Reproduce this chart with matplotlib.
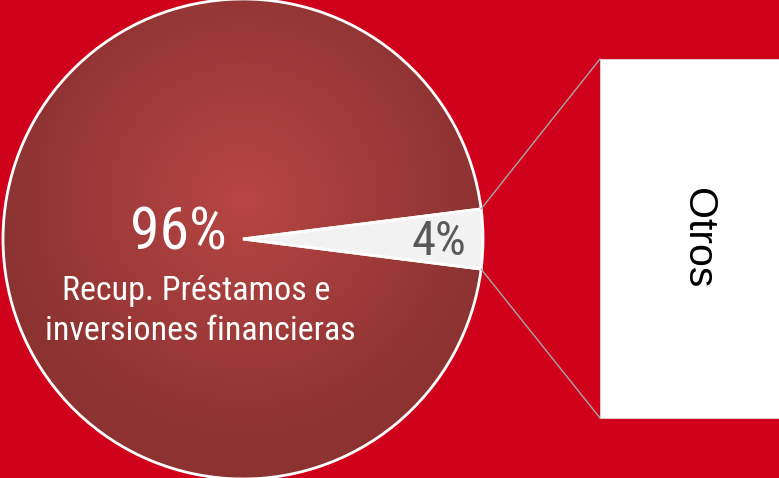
import matplotlib
matplotlib.use('Agg')
import matplotlib.pyplot as plt
from matplotlib.patches import Rectangle
import numpy as np

# data
shares = [4, 96]
pct_labels = ['4%', '96%']
main_label = ['Recup. Préstamos e', 'inversiones financieras']
other_label = 'Otros'

BG = '#D0021B'
NARROW = ['Roboto Condensed', 'Liberation Sans', 'DejaVu Sans']
REG = ['Liberation Sans', 'DejaVu Sans']

W, H = 779, 478
fig = plt.figure(figsize=(W / 100, H / 100), dpi=100, facecolor=BG)
ax = fig.add_axes([0, 0, 1, 1])
ax.set_facecolor(BG)

cx, cy, r = 243, 239, 240
start = -shares[0] * 3.6 / 2
wedges, _ = ax.pie(shares, startangle=start, center=(cx, cy), radius=r,
                   colors=['#F2F2F2', '#A0403C'],
                   wedgeprops=dict(edgecolor='white', linewidth=2.0))

# radial gradient fill for the big slice
yy, xx = np.mgrid[0:H, 0:W]
d = np.hypot(xx - cx, yy - (H - cy - 40)) / r
d = np.clip(d, 0, 1)
c0 = np.array([0xB8, 0x46, 0x44]) / 255
c1 = np.array([0x8C, 0x33, 0x32]) / 255
img = c0[None, None, :] * (1 - d[..., None]) + c1[None, None, :] * d[..., None]
im = ax.imshow(img, extent=(0, W, 0, H), origin='upper', zorder=1.5)
im.set_clip_path(wedges[1])
wedges[1].set_zorder(2)
wedges[1].set_facecolor('none')
wedges[0].set_zorder(2)

# callout box
box_x, box_y0, box_y1 = 600, 60, 419
ax.add_patch(Rectangle((box_x, box_y0), W - box_x + 5, box_y1 - box_y0,
                       facecolor='white', edgecolor='#D9D9D9', linewidth=0.6, zorder=3))
t1, t2 = np.radians(wedges[0].theta1), np.radians(wedges[0].theta2)
ax.plot([cx + r * np.cos(t2), box_x], [cy + r * np.sin(t2), box_y1],
        color='#A6A6A6', linewidth=1.0, zorder=2.5)
ax.plot([cx + r * np.cos(t1), box_x], [cy + r * np.sin(t1), box_y0],
        color='#A6A6A6', linewidth=1.0, zorder=2.5)
ax.text(698, 240, other_label, rotation=-90, ha='center', va='center',
        fontsize=29.5, family=REG, color='black', zorder=4)

# labels
ax.text(439, 223, pct_labels[0], ha='center', va='baseline', fontsize=35,
        family=NARROW, color='#595959', zorder=4)
ax.text(178, 229, pct_labels[1], ha='center', va='baseline', fontsize=43,
        family=NARROW, color='white', zorder=4)
ax.text(196, 178, main_label[0], ha='center', va='baseline', fontsize=24.5,
        family=NARROW, color='white', zorder=4)
ax.text(200, 138, main_label[1], ha='center', va='baseline', fontsize=24.5,
        family=NARROW, color='white', zorder=4)

ax.set_xlim(0, W)
ax.set_ylim(0, H)
ax.set_aspect('equal')
ax.axis('off')

fig.savefig('out.png', dpi=100, facecolor=BG)
plt.close()
